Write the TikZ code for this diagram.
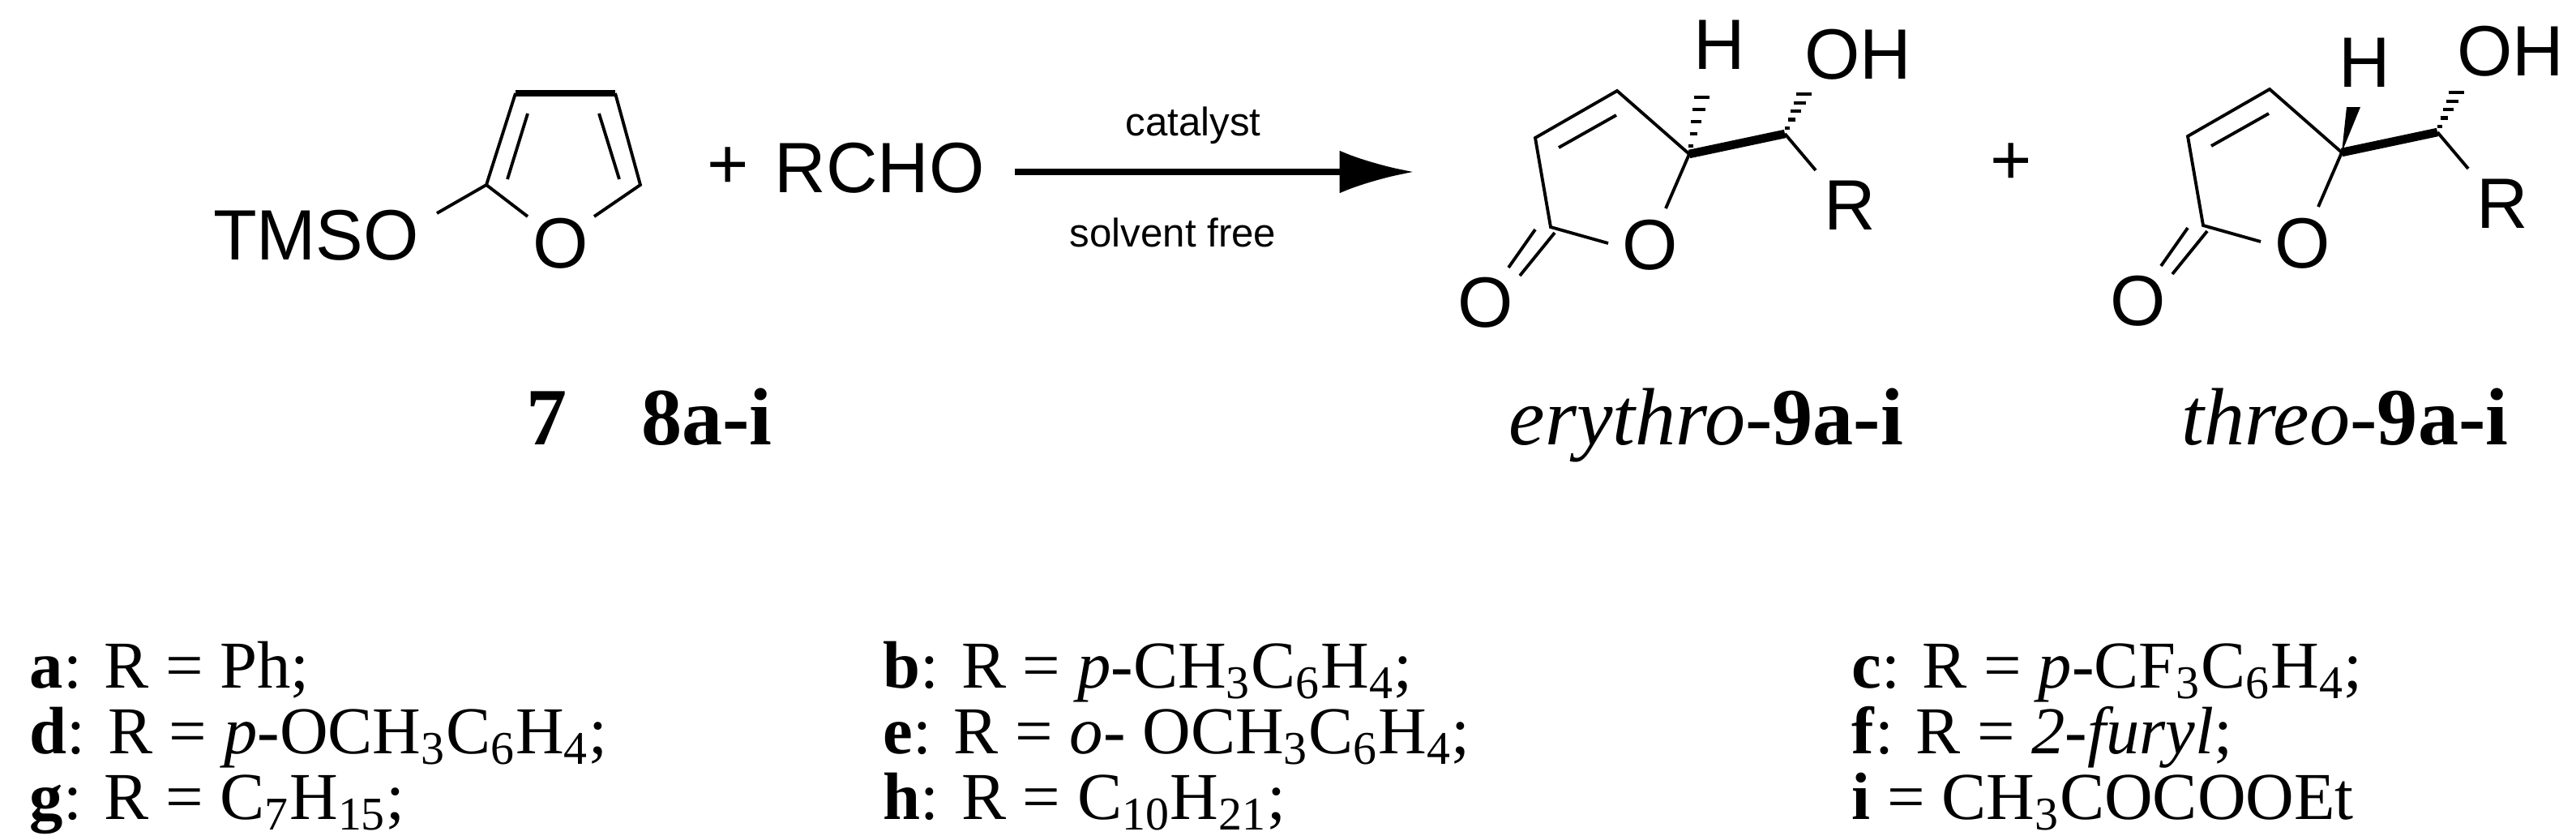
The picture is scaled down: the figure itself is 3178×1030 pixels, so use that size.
\documentclass[tikz,border=0pt]{standalone}
\usepackage{fontspec}
\setmainfont{Liberation Serif}
\newfontfamily\arial{Liberation Sans}
\usetikzlibrary{calc,arrows.meta}
\begin{document}
\begin{tikzpicture}[x=0.01cm,y=-0.01cm,
  bond/.style={line width=1.1pt},
  bold bond/.style={line width=3pt},
  atom/.style={inner sep=0pt,font=\arial\fontsize{25}{25}\selectfont},
  cond/.style={inner sep=0pt,font=\arial\fontsize{14}{14}\selectfont},
  lab/.style={inner sep=0pt,anchor=base,font=\fontsize{28.5}{28.5}\selectfont},
  item/.style={inner sep=0pt,anchor=base west,font=\fontsize{23.5}{23.5}\selectfont}]
\useasboundingbox (0,0) rectangle (3178,1030);
% furan 7
\node[atom] (tmso) at (390,290) {TMSO};
\node[atom] (o7) at (692,300) {O};
\coordinate (c2) at (600,228); \coordinate (c3) at (636,115);
\coordinate (c4) at (759,115); \coordinate (c5) at (790,228);
\draw[bond] (539,263) -- (c2) -- (c3);
\draw[bond,line width=2.2pt] (c3) -- (c4);
\draw[bond] (c4) -- (c5) -- (733,267);
\draw[bond] (c2) -- (651,267);
\draw[bond] (626,221) -- (651,140);
\draw[bond] (739,140) -- (764,221);
\node[atom] (plus1) at (898,207) {+};
\node[atom] (rcho) at (1085,207) {RCHO};
\coordinate (a1) at (1252,212); \coordinate (a2) at (1744,212);
\draw[line width=2.2pt,-{Latex[length=26pt,width=15pt]}] (a1) -- (a2);
\node[cond] (cat) at (1472,155) {catalyst};
\node[cond] (sol) at (1447,287) {solvent free};
% products
\foreach \dx/\dy/\wedge in {0/0/0,805/-2/1}{
\begin{scope}[shift={(\dx,\dy)}]
\coordinate (top) at (1995,112); \coordinate (left) at (1894,170);
\coordinate (cc) at (1913,280); \coordinate (cs) at (2084,190);
\coordinate (cp) at (2202,165);
\node[atom] (or) at (2036,302) {O};
\node[atom] (oc) at (1833,373) {O};
\node[atom] (r) at (2282,253) {R};
\draw[bond] (cs) -- (top) -- (left) -- (cc) -- (1984,300);
\draw[bond] (2055,257) -- (cs);
\draw[bond] (1923,182) -- (1994,142);
\draw[bond] (1918,287) -- (1875,340);
\draw[bond] (1894,283) -- (1861,330);
\draw[bold bond] (cs) -- (cp);
\draw[bond] (cp) -- (2240,210);
% OH hash
\foreach \t in {0.12,0.3,0.48,0.66,0.84}
  \draw[line width=1.2pt] ($(cp)!\t!(2230,107)+(-\t*9-2,0)$) -- ($(cp)!\t!(2230,107)+(\t*9+2,0)$);
\ifnum\wedge=0
  \node[atom] (h) at (2121,55) {H};
  \node[atom] (oh) at (2292,67) {OH};
  \foreach \t in {0.12,0.3,0.48,0.66,0.84}
    \draw[line width=1.2pt] ($(cs)!\t!(2102,107)+(-\t*9-2,0)$) -- ($(cs)!\t!(2102,107)+(\t*9+2,0)$);
\else
  \node[atom] (h) at (2112,79) {H};
  \node[atom] (oh) at (2292,65) {OH};
  \fill (cs) -- (2090,134) -- (2107,134) -- cycle;
\fi
\end{scope}}
\node[atom] (plus2) at (2481,202) {+};
% labels
\node[lab] (l7) at (675,548) {\textbf{7}};
\node[lab] (l8) at (872,548) {\textbf{8a-i}};
\node[lab] (le) at (2105,548) {\textit{erythro}-\textbf{9a-i}};
\node[lab] (lt) at (2893,548) {\textit{threo}-\textbf{9a-i}};
% list
\node[item] (ia) at (36,848) {\textbf{a}: R = Ph;};
\node[item] (ib) at (1089,848) {\textbf{b}: R = \textit{p}-CH\textsubscript{3}C\textsubscript{6}H\textsubscript{4};};
\node[item] (ic) at (2284,848) {\textbf{c}: R = \textit{p}-CF\textsubscript{3}C\textsubscript{6}H\textsubscript{4};};
\node[item] (id) at (36,929) {\textbf{d}: R = \textit{p}-OCH\textsubscript{3}C\textsubscript{6}H\textsubscript{4};};
\node[item] (ie) at (1089,929) {\textbf{e}: R = \textit{o}- OCH\textsubscript{3}C\textsubscript{6}H\textsubscript{4};};
\node[item] (if) at (2284,929) {\textbf{f}: R = \textit{2-furyl};};
\node[item] (ig) at (36,1010) {\textbf{g}: R = C\textsubscript{7}H\textsubscript{15};};
\node[item] (ih) at (1089,1010) {\textbf{h}: R = C\textsubscript{10}H\textsubscript{21};};
\node[item] (ii) at (2284,1010) {\textbf{i} = CH\textsubscript{3}COCOOEt};
\end{tikzpicture}
\end{document}
